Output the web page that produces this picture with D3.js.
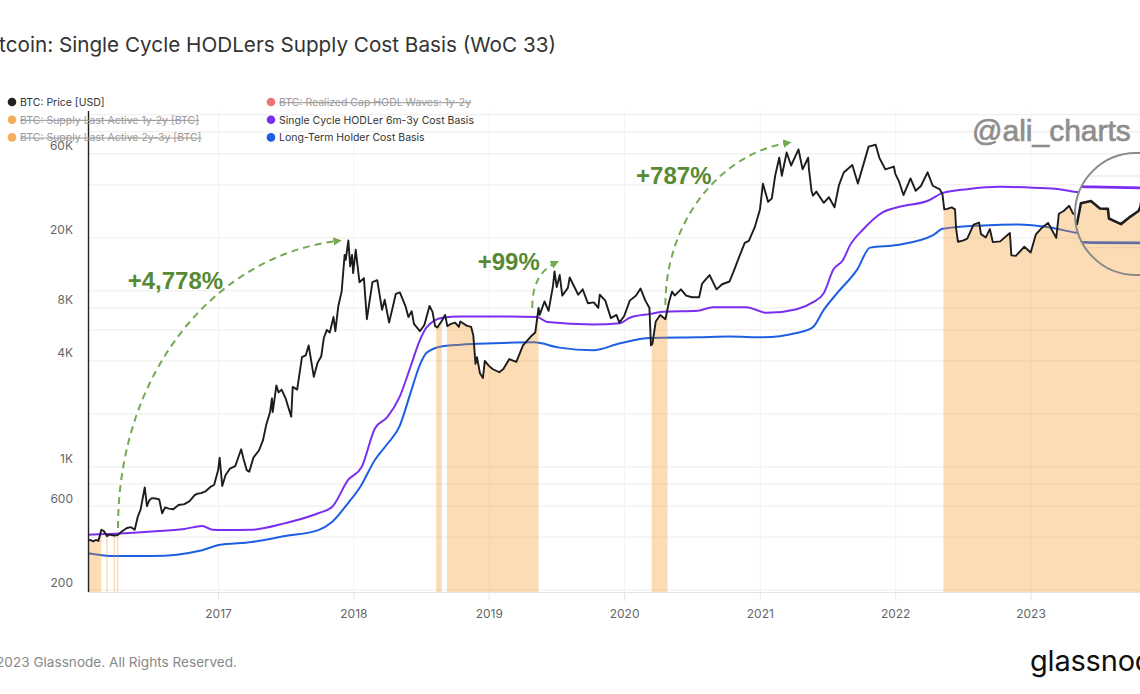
<!DOCTYPE html>
<html><head><meta charset="utf-8">
<script src="https://cdn.jsdelivr.net/npm/d3@7"></script>
<style>body{margin:0;background:#fff;} svg{display:block;font-family:Inter,"Noto Sans",sans-serif;}</style>
</head><body><svg id="c" width="1140" height="694"></svg>
<script>
// ---------------- DATA ----------------
const priceSeries = [
["2016-01-15",380],["2016-01-22",385],["2016-01-29",378],["2016-02-05",385],["2016-02-12",380],["2016-02-20",440],["2016-02-27",432],["2016-03-06",405],["2016-03-13",413],["2016-03-26",408],["2016-04-04",410],["2016-04-15",430],["2016-04-29",450],["2016-05-10",455],["2016-05-20",440],["2016-05-28",520],["2016-06-05",575],["2016-06-12",690],["2016-06-16",765],["2016-06-22",600],["2016-06-28",645],["2016-07-05",665],["2016-07-15",662],["2016-07-25",655],["2016-08-02",545],["2016-08-10",590],["2016-08-20",580],["2016-09-01",575],["2016-09-15",608],["2016-10-01",615],["2016-10-15",640],["2016-10-28",690],["2016-11-05",705],["2016-11-15",710],["2016-11-28",730],["2016-12-10",770],["2016-12-20",790],["2016-12-31",960],
["2017-01-04",1130],["2017-01-11",780],["2017-01-20",900],["2017-02-01",980],["2017-02-15",1010],["2017-03-03",1260],["2017-03-10",1100],["2017-03-18",960],["2017-03-25",940],["2017-04-05",1130],["2017-04-20",1240],["2017-05-01",1420],["2017-05-10",1750],["2017-05-20",2050],["2017-05-25",2450],["2017-05-27",2050],["2017-06-06",2900],["2017-06-12",2650],["2017-06-20",2750],["2017-07-01",2450],["2017-07-16",1930],["2017-07-20",2850],["2017-08-01",2750],["2017-08-14",4200],["2017-08-24",4300],["2017-09-01",4900],["2017-09-15",3250],["2017-09-25",3900],["2017-10-05",4250],["2017-10-12",5400],["2017-10-20",6000],["2017-10-28",5800],["2017-11-07",7100],["2017-11-12",5900],["2017-11-20",8200],["2017-11-29",9900],["2017-12-07",16000],["2017-12-10",15000],["2017-12-17",19300],["2017-12-22",13800],["2017-12-27",16000],["2017-12-30",12600],
["2018-01-06",17100],["2018-01-16",11200],["2018-01-28",11800],["2018-02-05",6900],["2018-02-20",11200],["2018-03-05",11500],["2018-03-18",7800],["2018-03-25",8900],["2018-04-06",6600],["2018-04-24",9600],["2018-05-05",9800],["2018-05-20",8200],["2018-05-28",7100],["2018-06-06",7650],["2018-06-12",6500],["2018-06-28",5900],["2018-07-10",6400],["2018-07-24",8200],["2018-08-01",7600],["2018-08-08",6300],["2018-08-14",6200],["2018-08-25",6700],["2018-09-04",7300],["2018-09-10",6300],["2018-09-20",6500],["2018-10-01",6600],["2018-10-11",6250],["2018-10-15",6700],["2018-11-01",6350],["2018-11-13",6250],["2018-11-19",5600],["2018-11-25",3850],["2018-11-29",4200],["2018-12-07",3400],["2018-12-15",3200],["2018-12-20",4000],["2018-12-31",3750],
["2019-01-10",3600],["2019-01-28",3450],["2019-02-08",3600],["2019-02-24",4100],["2019-03-15",3950],["2019-04-02",4900],["2019-04-23",5500],["2019-05-05",5800],["2019-05-14",8000],["2019-05-17",7300],["2019-05-30",8700],["2019-06-10",7700],["2019-06-22",10700],["2019-06-26",12900],["2019-07-02",10500],["2019-07-10",12300],["2019-07-17",9400],["2019-08-01",10400],["2019-08-06",11900],["2019-08-29",9500],["2019-09-10",10200],["2019-09-24",8500],["2019-10-10",8600],["2019-10-22",8000],["2019-10-26",9500],["2019-11-10",8800],["2019-11-25",7000],["2019-12-10",7300],["2019-12-18",6600],["2019-12-31",7200],
["2020-01-15",8800],["2020-02-01",9400],["2020-02-13",10300],["2020-02-26",8800],["2020-03-08",8000],["2020-03-12",4900],["2020-03-16",5000],["2020-03-25",6700],["2020-04-06",7300],["2020-04-20",6900],["2020-04-30",8700],["2020-05-08",9900],["2020-05-15",9400],["2020-06-01",10200],["2020-06-15",9400],["2020-07-01",9200],["2020-07-20",9200],["2020-07-28",11000],["2020-08-17",12300],["2020-09-05",10200],["2020-09-20",10900],["2020-10-10",11300],["2020-10-21",12900],["2020-11-05",15600],["2020-11-20",18700],["2020-12-01",19200],["2020-12-17",23000],["2020-12-31",29000],
["2021-01-08",40600],["2021-01-22",32000],["2021-02-01",33500],["2021-02-10",45000],["2021-02-21",57000],["2021-02-28",45000],["2021-03-13",61000],["2021-03-25",51500],["2021-04-14",63500],["2021-04-25",49000],["2021-05-10",57000],["2021-05-12",49500],["2021-05-19",37000],["2021-05-23",34700],["2021-06-01",36600],["2021-06-21",31600],["2021-07-05",34000],["2021-07-20",29800],["2021-08-01",39800],["2021-08-14",47000],["2021-09-06",51800],["2021-09-21",40700],["2021-10-01",48000],["2021-10-20",65900],["2021-11-08",67500],["2021-11-18",56900],["2021-12-04",49000],["2021-12-27",50800],["2021-12-31",46200],
["2022-01-10",41800],["2022-01-22",35000],["2022-02-10",43500],["2022-02-24",37000],["2022-03-10",39400],["2022-03-28",47100],["2022-04-11",39500],["2022-04-30",37700],["2022-05-07",35500],["2022-05-12",29000],["2022-05-20",29200],["2022-06-01",29800],["2022-06-10",29000],["2022-06-13",22500],["2022-06-18",19000],["2022-07-01",19300],["2022-07-13",19800],["2022-07-30",23800],["2022-08-14",24400],["2022-08-19",21000],["2022-09-01",20100],["2022-09-12",22400],["2022-09-20",18900],["2022-10-10",19100],["2022-10-28",20600],["2022-11-05",21300],["2022-11-09",15900],["2022-11-21",15800],["2022-12-14",17800],["2022-12-31",16500],
["2023-01-14",20900],["2023-01-30",22800],["2023-02-16",24300],["2023-03-10",20000],["2023-03-17",27400],["2023-03-30",28400],["2023-04-14",30400],["2023-04-24",27500],["2023-05-12",26300],["2023-05-28",28000],["2023-06-15",25100],["2023-06-23",30700],["2023-07-13",31400],["2023-07-31",29200],["2023-08-16",29100],["2023-08-18",26500],["2023-09-11",25100],["2023-09-30",27000],["2023-10-16",28500],["2023-10-20",29700],["2023-10-24",33900]
];
const purpleSeries = [
["2016-01-15",412],["2016-03-28",418],["2016-07-05",430],["2016-10-01",445],["2016-11-18",462],["2016-12-16",440],["2017-01-15",438],["2017-04-01",440],["2017-06-30",480],["2017-09-27",546],["2017-11-03",592],["2017-12-17",847],["2018-01-22",1000],["2018-02-27",1660],["2018-04-01",1920],["2018-05-04",2490],["2018-06-02",3670],["2018-06-28",5250],["2018-07-16",6200],["2018-08-28",7040],["2018-10-15",7140],["2019-01-12",7150],["2019-05-10",7100],["2019-06-06",6660],["2019-10-08",6450],["2019-12-20",6550],["2020-01-15",7040],["2020-03-10",7400],["2020-04-12",7600],["2020-07-16",7700],["2020-08-26",8080],["2020-11-24",8080],["2021-01-19",7500],["2021-04-09",7870],["2021-05-22",8600],["2021-06-21",9700],["2021-07-17",13200],["2021-08-12",14970],["2021-08-30",18000],["2021-10-05",22300],["2021-11-28",28000],["2022-01-11",30000],["2022-04-01",32700],["2022-05-08",36000],["2022-07-13",37800],["2022-10-09",39000],["2023-01-08",38500],["2023-03-18",37800],["2023-05-03",36400],["2023-07-15",36000],["2023-10-31",35600]
];
const blueSeries = [
["2016-01-15",324],["2016-03-28",312],["2016-07-05",312],["2016-11-18",337],["2017-01-01",360],["2017-04-01",375],["2017-06-30",405],["2017-09-27",438],["2017-11-03",487],["2017-12-17",626],["2018-01-18",770],["2018-02-27",1100],["2018-04-01",1350],["2018-05-04",1700],["2018-06-02",2600],["2018-06-28",3800],["2018-07-16",4450],["2018-08-28",4850],["2018-10-15",4950],["2019-01-12",5040],["2019-05-01",5100],["2019-07-09",4760],["2019-10-08",4600],["2019-12-20",5040],["2020-03-10",5400],["2020-07-16",5450],["2020-10-12",5500],["2021-01-08",5450],["2021-04-09",5760],["2021-05-22",6200],["2021-06-21",7800],["2021-07-27",9700],["2021-09-19",13200],["2021-10-24",17600],["2022-01-04",18200],["2022-04-12",20700],["2022-05-08",22500],["2022-08-25",23500],["2022-11-24",23800],["2023-02-22",22900],["2023-05-03",21400],["2023-07-15",21000],["2023-10-31",20900]
];
// periods where price sits below the single-cycle cost basis (orange shading)
const belowIntervals = [
["2016-01-15","2016-02-20"],["2016-03-04","2016-03-08"],["2016-03-24","2016-03-28"],["2016-04-02","2016-04-06"],
["2018-08-11","2018-08-26"],["2018-09-09","2019-05-14"],["2020-03-14","2020-04-26"],["2022-05-10","2023-10-31"]
];
const yGridValues = [200,400,600,800,1000,2000,4000,6000,8000,10000,20000,40000,60000,80000,100000];
const yTickValues = [200,600,1000,4000,8000,20000,60000];
const yTickLabels = ["200","600","1K","4K","8K","20K","60K"];
const xTickYears = [2017,2018,2019,2020,2021,2022,2023];
const legendLabels = ["BTC: Price [USD]","BTC: Supply Last Active 1y-2y [BTC]","BTC: Supply Last Active 2y-3y [BTC]","BTC: Realized Cap HODL Waves: 1y-2y","Single Cycle HODLer 6m-3y Cost Basis","Long-Term Holder Cost Basis"];
const legendHidden = [false,true,true,true,false,false];
const annotationLabels = ["+4,778%","+99%","+787%"];
const annotationTextAt = [["2016-05-01",10300],["2018-12-01",13200],["2020-02-01",40600]];
const arrowFrom = [["2016-04-05",450],["2019-04-27",8000],["2020-04-20",8300]];
const arrowTo = [["2017-11-18",19200],["2019-06-28",14400],["2021-03-15",69200]];

// ---------------- CHART ----------------
const parse = d3.utcParse("%Y-%m-%d");
const toPts = s => s.map(([d,v]) => ({d: parse(d), v}));
const price = toPts(priceSeries), purple = toPts(purpleSeries), blue = toPts(blueSeries);

const L = 88, R = 1143.4, T = 111, B = 592;
const x = d3.scaleUtc().domain([parse("2016-01-15"), parse("2023-10-31")]).range([L, R]);
const y = d3.scaleLog().domain([195, 105000]).range([B, T]);

const C = {price:"#1d1d1d", purple:"#7a2ff0", blue:"#1d5fe3", orange:"#f7931a", green:"#578a32", arrow:"#74a955"};
const legendColors = ["#222", "#f0a040", "#f0a040", "#ea5b5b", C.purple, C.blue];

const svg = d3.select("#c");
const defs = svg.append("defs");
defs.append("clipPath").attr("id","plotClip").append("rect").attr("x",L).attr("y",T).attr("width",1160-L).attr("height",B-T);
const mag = {cx:1136, cy:214, r:61, fx:1136, fy:210, k:1.35};
defs.append("clipPath").attr("id","magClip").append("circle").attr("cx",mag.cx).attr("cy",mag.cy).attr("r",mag.r);
defs.append("marker").attr("id","arrowHead").attr("viewBox","0 0 10 10").attr("refX",5).attr("refY",5)
  .attr("markerWidth",4.2).attr("markerHeight",4.2).attr("orient","auto")
  .append("path").attr("d","M0,0 L10,5 L0,10 z").attr("fill",C.arrow);

const bis = d3.bisector(p => p.d).left;
function priceAt(d){
  const i = bis(price, d);
  if (i <= 0) return price[0].v;
  if (i >= price.length) return price[price.length-1].v;
  const a = price[i-1], b = price[i];
  const t = (d - a.d) / (b.d - a.d);
  return a.v + (b.v - a.v) * t;
}

function drawContent(g){
  g.append("g").selectAll("line").data(yGridValues).join("line")
    .attr("x1",L).attr("x2",1160).attr("y1",d=>y(d)).attr("y2",d=>y(d))
    .attr("stroke","#ececec").attr("stroke-width",1);
  g.append("g").selectAll("line").data(xTickYears).join("line")
    .attr("x1",d=>x(Date.UTC(d,0,1))).attr("x2",d=>x(Date.UTC(d,0,1))).attr("y1",T).attr("y2",B)
    .attr("stroke","#f3f3f3").attr("stroke-width",1);
  const line = d3.line().x(p=>x(p.d)).y(p=>y(p.v));
  const smooth = d3.line().x(p=>x(p.d)).y(p=>y(p.v)).curve(d3.curveMonotoneX);
  g.append("path").datum(blue).attr("d",smooth).attr("fill","none").attr("stroke",C.blue).attr("stroke-width",2);
  const area = d3.area().x(p=>x(p.d)).y0(B).y1(p=>y(p.v));
  const areas = belowIntervals.map(([a,b]) => {
    const da = parse(a), db = parse(b);
    return [{d:da, v:priceAt(da)}, ...price.filter(p => p.d > da && p.d < db), {d:db, v:priceAt(db)}];
  });
  g.append("g").selectAll("path").data(areas).join("path").attr("d",area)
    .attr("fill",C.orange).attr("fill-opacity",0.32);
  g.append("path").datum(purple).attr("d",smooth).attr("fill","none").attr("stroke",C.purple).attr("stroke-width",2);
  g.append("path").datum(price).attr("d",line).attr("fill","none").attr("stroke",C.price).attr("stroke-width",1.9).attr("stroke-linejoin","round");
}

const main = svg.append("g").attr("clip-path","url(#plotClip)");
drawContent(main);

// x axis baseline & ticks
svg.append("line").attr("x1",L).attr("x2",1140).attr("y1",B+0.5).attr("y2",B+0.5).attr("stroke","#e2e2e2");
svg.append("g").selectAll("line").data(xTickYears).join("line")
  .attr("x1",d=>x(Date.UTC(d,0,1))).attr("x2",d=>x(Date.UTC(d,0,1))).attr("y1",B).attr("y2",B+9).attr("stroke","#e6e6e6");
svg.append("g").selectAll("text").data(xTickYears).join("text")
  .attr("x",d=>x(Date.UTC(d,0,1))).attr("y",618).attr("text-anchor","middle")
  .attr("font-size",12).attr("fill","#666").text(d=>d);
// y axis
svg.append("line").attr("x1",L+0.5).attr("x2",L+0.5).attr("y1",T).attr("y2",B).attr("stroke","#222").attr("stroke-width",1.4);
svg.append("g").selectAll("text").data(yTickValues).join("text")
  .attr("x",73).attr("y",d=>y(d)-3.5).attr("text-anchor","end").attr("font-size",12).attr("fill","#666")
  .text((d,i)=>yTickLabels[i]);

// annotations
const P = ([d,v]) => [x(parse(d)), y(v)];
const ks = [[0.55,0.55,0.05],[0.5,0.7,0.18],[0.52,0.55,0.07]];
annotationLabels.forEach((lab,i) => {
  const [sx,sy] = P(arrowFrom[i]), [ex,ey] = P(arrowTo[i]);
  const [k1,k2,k3] = ks[i];
  const dpath = `M${sx},${sy} C${sx},${sy-k1*(sy-ey)} ${ex-k2*(ex-sx)},${ey+k3*(sy-ey)} ${ex},${ey}`;
  svg.append("path").attr("d",dpath).attr("fill","none").attr("stroke",C.arrow).attr("stroke-width",2)
    .attr("stroke-dasharray","7,5").attr("marker-end","url(#arrowHead)");
  const [tx,ty] = P(annotationTextAt[i]);
  svg.append("text").attr("x",tx).attr("y",ty).attr("font-family","'Liberation Sans',Arial,sans-serif")
    .attr("font-weight","bold").attr("font-size",24).attr("fill",C.green).text(lab);
});

// magnifier lens
const lens = svg.append("g").attr("clip-path","url(#magClip)");
lens.append("rect").attr("x",mag.cx-mag.r).attr("y",mag.cy-mag.r).attr("width",2*mag.r).attr("height",2*mag.r).attr("fill","#fff");
const inner = lens.append("g").attr("transform",`translate(${mag.fx},${mag.fy}) scale(${mag.k}) translate(${-mag.fx},${-mag.fy})`)
  .append("g").attr("clip-path","url(#plotClip)");
drawContent(inner);
svg.append("circle").attr("cx",mag.cx).attr("cy",mag.cy).attr("r",mag.r).attr("fill","none").attr("stroke","#8a8a8a").attr("stroke-width",2);

// watermark
svg.append("text").attr("x",972).attr("y",141).attr("font-family","'Liberation Sans',Arial,sans-serif")
  .attr("font-size",30).attr("fill","#8e8e8e").attr("stroke","#8e8e8e").attr("stroke-width",0.7).text("@ali_charts");

// legend
const lg = svg.append("g");
legendLabels.forEach((lab,i) => {
  const col = i < 3 ? 0 : 1, row = i % 3;
  const lx = col === 0 ? 12 : 271, ly = 102 + row * 17.7;
  lg.append("circle").attr("cx",lx).attr("cy",ly).attr("r",4.3).attr("fill",legendColors[i]).attr("fill-opacity",legendHidden[i]?0.85:1);
  lg.append("text").attr("x",lx+8).attr("y",ly+4).attr("font-size",10.5).attr("fill",legendHidden[i]?"#9a9a9a":"#333")
    .attr("text-decoration",legendHidden[i]?"line-through":null).text(lab);
});

// title & footer
svg.append("text").attr("x",556).attr("y",52).attr("text-anchor","end").attr("font-size",20.7).attr("fill","#333")
  .text("Bitcoin: Single Cycle HODLers Supply Cost Basis (WoC 33)");
svg.append("text").attr("x",237).attr("y",667).attr("text-anchor","end").attr("font-size",13.6).attr("fill","#888")
  .text("© 2023 Glassnode. All Rights Reserved.");
svg.append("text").attr("x",1030).attr("y",671).attr("font-size",29).attr("font-weight",400).attr("fill","#111")
  .attr("letter-spacing","-0.2").text("glassnode");
</script></body></html>
